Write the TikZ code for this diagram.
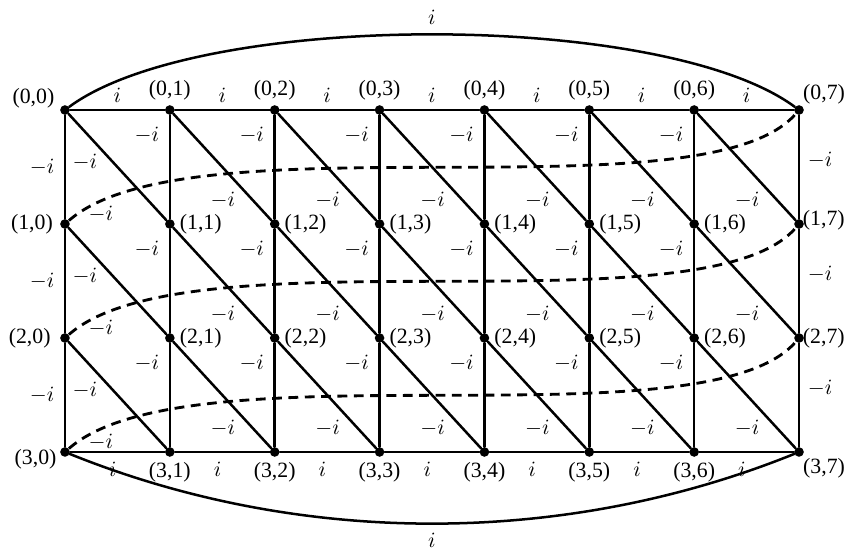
\documentclass[tikz,border=0pt]{standalone}
\usepackage{fontspec}
\setmainfont{Liberation Serif}
\usetikzlibrary{positioning}

\begin{document}
\begin{tikzpicture}[x=1cm,y=1cm]
\tikzset{
  gridnode/.style={circle,fill=black,inner sep=0pt,minimum size=4.4pt},
  gridedge/.style={draw=black,line width=1.15pt,line cap=round,line join=round},
  wrapedge/.style={draw=black,line width=1.3pt,dash pattern=on 4.5pt off 3pt},
  ptlabel/.style={inner sep=1pt},
  wt/.style={inner sep=1pt}
}
\useasboundingbox (-1.048,1.774) rectangle (12.613,-7.145);
% grid points (r,c)
\foreach \r in {0,...,3}
  \foreach \c in {0,...,7}
    \node[gridnode] (n\r\c) at ({\c*1.6913},{-\r*1.8387}) {};
% point labels
\foreach \c in {1,...,6}{
  \node[ptlabel,above=1pt of n0\c] (t0\c) {(0,\c)};
  \node[ptlabel,right=1pt of n1\c] (t1\c) {(1,\c)};
  \node[ptlabel,right=1pt of n2\c] (t2\c) {(2,\c)};
  \node[ptlabel,below=1pt of n3\c] (t3\c) {(3,\c)};
}
\node[ptlabel,above left=-2pt and 2pt of n00] (t00) {(0,0)};
\node[ptlabel,left=2pt of n10] (t10) {(1,0)};
\node[ptlabel,left=3pt of n20] (t20) {(2,0)};
\node[ptlabel,below left=-4pt and 1pt of n30] (t30) {(3,0)};
\node[ptlabel,above right=0pt and -1pt of n07] (t07) {(0,7)};
\node[ptlabel,right=-1.8pt of n17,yshift=1.5pt] (t17) {(1,7)};
\node[ptlabel,right=-1.8pt of n27] (t27) {(2,7)};
\node[ptlabel,below right=0pt and -1pt of n37] (t37) {(3,7)};
% vertical edges
\foreach \c in {0,...,7}
  \draw[gridedge] (n0\c) -- (n1\c) -- (n2\c) -- (n3\c);
% top and bottom rows
\foreach \c [count=\d] in {0,...,6}{
  \draw[gridedge] (n0\c) -- node[wt,above=2pt] (wt\c) {$i$} (n0\d);
  \draw[gridedge] (n3\c) -- node[wt,below=3pt,pos=0.45] (wb\c) {$i$} (n3\d);
}
% diagonals
\foreach \r [count=\s] in {0,1,2}
  \foreach \c [count=\d] in {0,...,6}
    \draw[gridedge] (n\r\c) -- (n\s\d);
% outer arcs
\draw[gridedge] (n00) .. controls +(2.18,1.61) and +(-2.18,1.61) .. (n07)
  node[wt,midway,above=3pt] (wtop) {$i$};
\draw[gridedge] (n30) .. controls +(3.79,-1.53) and +(-3.79,-1.53) .. (n37)
  node[wt,midway,below=3pt] (wbot) {$i$};
% dashed wrap edges
\foreach \r [count=\s] in {0,1,2}
  \draw[wrapedge] (n\s0) .. controls +(2.0,1.75) and +(-1.52,-1.76) .. (n\r7);
% weights inside the bands
\foreach \r [count=\s] in {0,1,2}{
  \node[wt] (wl\r) at ([shift={(-0.37,-0.92)}]n\r0) {$-i$};
  \node[wt] (wr\r) at ([shift={(0.34,-0.81)}]n\r7) {$-i$};
  \node[wt] (wd\r0) at ([shift={(0.32,-0.84)}]n\r0) {$-i$};
  \node[wt] (wc\r) at ([shift={(0.58,0.16)}]n\s0) {$-i$};
  \foreach \c in {1,...,6}{
    \node[wt] (wv\r\c) at ([shift={(-0.37,-0.40)}]n\r\c) {$-i$};
    \node[wt] (wd\r\c) at ([shift={(0.855,0.387)}]n\s\c) {$-i$};
  }
}
\end{tikzpicture}
\end{document}
